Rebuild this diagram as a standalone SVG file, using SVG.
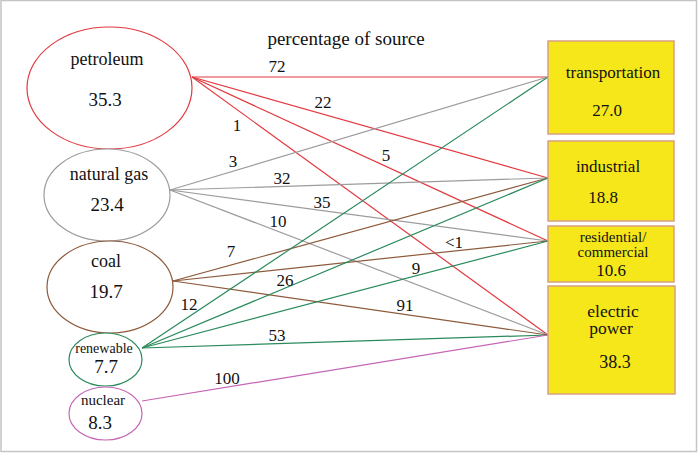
<svg xmlns="http://www.w3.org/2000/svg" width="698" height="453" viewBox="0 0 698 453">
<style>
text{font-family:"Liberation Serif","Times New Roman",serif;fill:#111;text-anchor:middle}
.lbl{font-size:17px}
.src{fill:#fff;stroke-width:1.2}
.dst{fill:#f6e71b;stroke:#d8a083;stroke-width:1.5}
.c line{stroke-width:1.2;fill:none}
.pet{stroke:#e2393f}
.gas{stroke:#9c9c9c}
.coal{stroke:#8d5a3b}
.ren{stroke:#2a8a5c}
.nuc{stroke:#c565b5}
</style>
<rect x="1" y="0.5" width="695.5" height="451" fill="#fff" stroke="#c4c4c4" stroke-width="1.5"/>
<text x="346" y="45" style="font-size:19px">percentage of source</text>
<g id="connectors" class="c">
<line class="pet" x1="192" y1="77" x2="548" y2="77"/>
<line class="pet" x1="192" y1="77" x2="548" y2="178"/>
<line class="pet" x1="192" y1="77" x2="548" y2="241"/>
<line class="pet" x1="192" y1="77" x2="548" y2="335"/>
<line class="gas" x1="170" y1="190" x2="548" y2="77"/>
<line class="gas" x1="170" y1="190" x2="548" y2="178"/>
<line class="gas" x1="170" y1="190" x2="548" y2="241"/>
<line class="gas" x1="170" y1="190" x2="548" y2="335"/>
<line class="coal" x1="173" y1="281" x2="548" y2="178"/>
<line class="coal" x1="173" y1="281" x2="548" y2="241"/>
<line class="coal" x1="173" y1="281" x2="548" y2="335"/>
<line class="ren" x1="142" y1="348" x2="548" y2="77"/>
<line class="ren" x1="142" y1="348" x2="548" y2="178"/>
<line class="ren" x1="142" y1="348" x2="548" y2="241"/>
<line class="ren" x1="142" y1="348" x2="548" y2="335"/>
<line class="nuc" x1="142" y1="401" x2="548" y2="335"/>
<text class="lbl" x="277" y="72">72</text>
<text class="lbl" x="323" y="108">22</text>
<text class="lbl" x="237" y="131">1</text>
<text class="lbl" x="386" y="161">5</text>
<text class="lbl" x="233" y="167">3</text>
<text class="lbl" x="282" y="184">32</text>
<text class="lbl" x="322" y="208">35</text>
<text class="lbl" x="278" y="227">10</text>
<text class="lbl" x="231" y="257">7</text>
<text class="lbl" x="454" y="248">&lt;1</text>
<text class="lbl" x="285" y="286">26</text>
<text class="lbl" x="416" y="274">9</text>
<text class="lbl" x="189" y="310">12</text>
<text class="lbl" x="405" y="311">91</text>
<text class="lbl" x="277" y="341">53</text>
<text class="lbl" x="227" y="384">100</text>
</g>
<g id="petroleum">
<ellipse class="src" cx="109.5" cy="88" rx="82.5" ry="61" stroke="#e2393f"/>
<text x="107" y="65" style="font-size:18px">petroleum</text>
<text x="105" y="106" style="font-size:19px">35.3</text>
</g>
<g id="natural_gas">
<ellipse class="src" cx="107" cy="195" rx="63" ry="46" stroke="#9c9c9c"/>
<text x="109" y="180" style="font-size:18px">natural gas</text>
<text x="107" y="211" style="font-size:19px">23.4</text>
</g>
<g id="coal">
<ellipse class="src" cx="110" cy="287" rx="63" ry="46" stroke="#8d5a3b"/>
<text x="106" y="267" style="font-size:18px">coal</text>
<text x="106" y="298" style="font-size:19px">19.7</text>
</g>
<g id="renewable">
<ellipse class="src" cx="105.5" cy="359.5" rx="36.5" ry="26.5" stroke="#2a8a5c"/>
<text x="104" y="353" style="font-size:14px">renewable</text>
<text x="106" y="373" style="font-size:19px">7.7</text>
</g>
<g id="nuclear">
<ellipse class="src" cx="105.5" cy="413.5" rx="36.5" ry="26.5" stroke="#c565b5"/>
<text x="103" y="405" style="font-size:15px">nuclear</text>
<text x="100" y="429" style="font-size:19px">8.3</text>
</g>
<g id="transportation">
<rect class="dst" x="548" y="41" width="126" height="93"/>
<text x="613" y="78" style="font-size:17px">transportation</text>
<text x="607" y="116" style="font-size:17px">27.0</text>
</g>
<g id="industrial">
<rect class="dst" x="548" y="141" width="126" height="80"/>
<text x="608" y="172" style="font-size:17px">industrial</text>
<text x="603" y="203" style="font-size:17px">18.8</text>
</g>
<g id="residential_commercial">
<rect class="dst" x="548" y="226" width="126" height="56"/>
<text x="613" y="242" style="font-size:15px">residential/</text>
<text x="613" y="257" style="font-size:15px">commercial</text>
<text x="611" y="276" style="font-size:17px">10.6</text>
</g>
<g id="electric_power">
<rect class="dst" x="548" y="286" width="127" height="108"/>
<text x="613" y="317" style="font-size:17.5px">electric</text>
<text x="611" y="334" style="font-size:17.5px">power</text>
<text x="615" y="368" style="font-size:18px">38.3</text>
</g>
</svg>
